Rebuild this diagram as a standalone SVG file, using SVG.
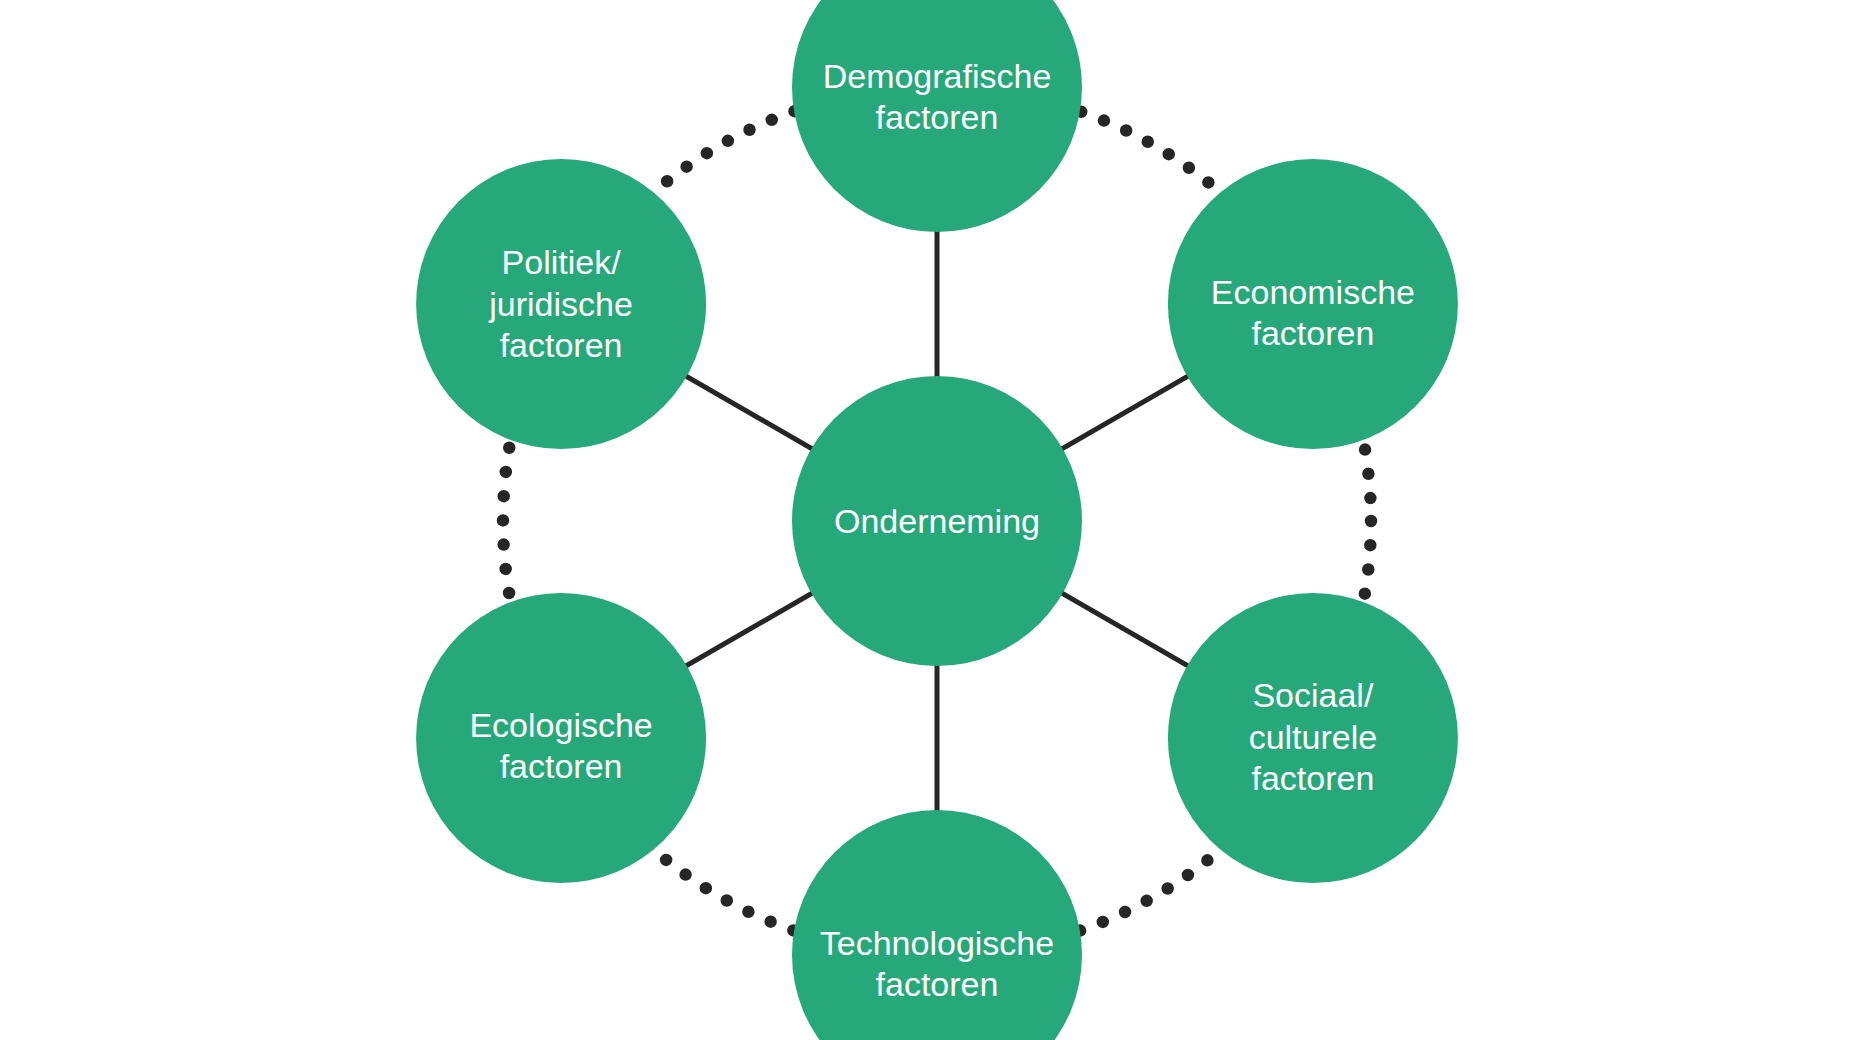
<svg xmlns="http://www.w3.org/2000/svg" width="1874" height="1040" viewBox="0 0 1874 1040">
<style>
.node{fill:#27a87b;}
.lbl{font-family:"Liberation Sans",Arial,Helvetica,sans-serif;font-size:34px;fill:#ffffff;text-anchor:middle;}
.spoke{stroke:#262626;stroke-width:5;fill:none;}
.dots{stroke:#262626;stroke-width:12.5;fill:none;stroke-linecap:round;stroke-dasharray:0 24.347;}
</style>
<rect width="1874" height="1040" fill="#ffffff"/>
<g id="connectors">
<line class="spoke" x1="937" y1="521" x2="937" y2="87"/>
<line class="spoke" x1="937" y1="521" x2="1312.9" y2="304"/>
<line class="spoke" x1="937" y1="521" x2="1312.9" y2="738"/>
<line class="spoke" x1="937" y1="521" x2="937" y2="955"/>
<line class="spoke" x1="937" y1="521" x2="561.1" y2="738"/>
<line class="spoke" x1="937" y1="521" x2="561.1" y2="304"/>
<path class="dots" d="M1371 521 A434 434 0 0 1 503 521 A434 434 0 0 1 1371 521"/>
</g>
<g id="node-onderneming">
<circle class="node" cx="937" cy="521" r="145"/>
<text class="lbl" x="937" y="533">Onderneming</text>
</g>
<g id="node-demografische">
<circle class="node" cx="937" cy="87" r="145"/>
<text class="lbl" x="937" y="88">Demografische</text>
<text class="lbl" x="937" y="129">factoren</text>
</g>
<g id="node-economische">
<circle class="node" cx="1312.9" cy="304" r="145"/>
<text class="lbl" x="1312.9" y="304">Economische</text>
<text class="lbl" x="1312.9" y="345">factoren</text>
</g>
<g id="node-sociaal">
<circle class="node" cx="1312.9" cy="738" r="145"/>
<text class="lbl" x="1312.9" y="707">Sociaal/</text>
<text class="lbl" x="1312.9" y="749">culturele</text>
<text class="lbl" x="1312.9" y="790">factoren</text>
</g>
<g id="node-technologische">
<circle class="node" cx="937" cy="955" r="145"/>
<text class="lbl" x="937" y="955">Technologische</text>
<text class="lbl" x="937" y="996">factoren</text>
</g>
<g id="node-ecologische">
<circle class="node" cx="561.1" cy="738" r="145"/>
<text class="lbl" x="561.1" y="737">Ecologische</text>
<text class="lbl" x="561.1" y="778">factoren</text>
</g>
<g id="node-politiek">
<circle class="node" cx="561.1" cy="304" r="145"/>
<text class="lbl" x="561.1" y="274">Politiek/</text>
<text class="lbl" x="561.1" y="316">juridische</text>
<text class="lbl" x="561.1" y="357">factoren</text>
</g>
</svg>
